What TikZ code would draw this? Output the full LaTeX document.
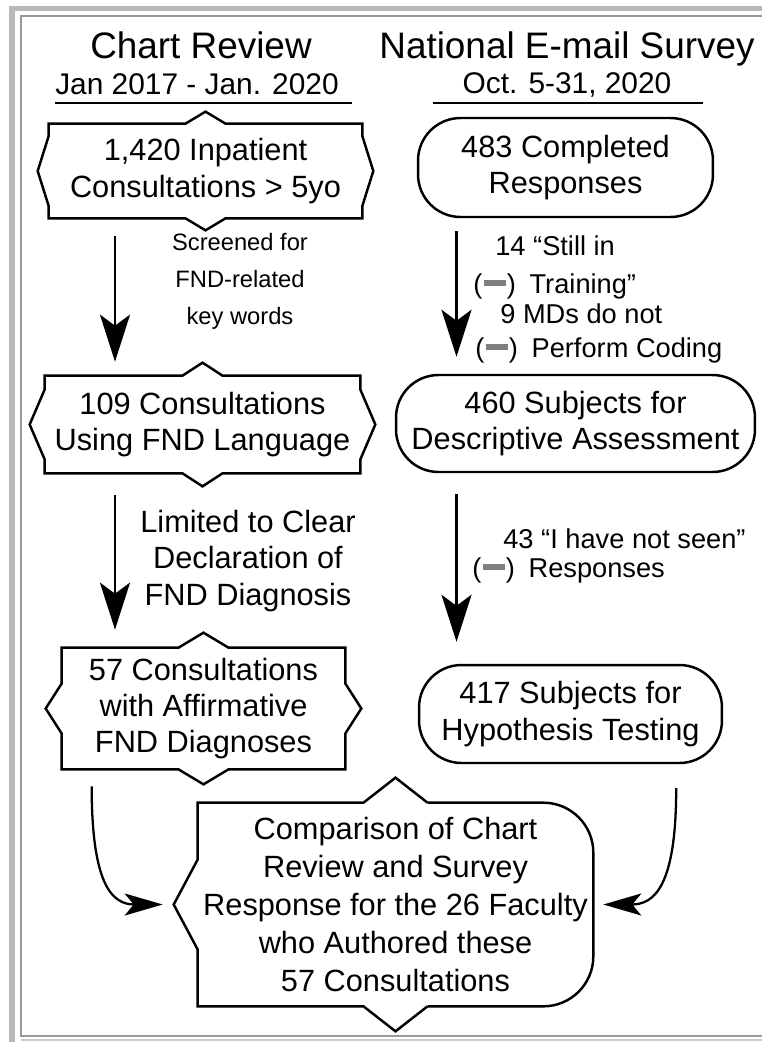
\documentclass[tikz,border=0pt]{standalone}
\usepackage{fontspec}
\setmainfont{Liberation Sans}
\usetikzlibrary{arrows.meta,calc,positioning}

\newcommand{\boxfont}{\fontsize{17.5}{20.7}\selectfont}
\newcommand{\headfont}{\fontsize{21}{25}\selectfont}
\newcommand{\datefont}{\fontsize{17}{20}\selectfont}
\newcommand{\notefont}{\fontsize{15.5}{19}\selectfont}
\newcommand{\minusbar}{(\kern0.05em\textcolor{gray}{\rule[0.26em]{0.8em}{0.22em}}\kern0.05em)\hspace{0.5em}}
% outline with a point on every side: node, peak, half base, side depth, side half
\newcommand{\spiky}[5]{%
  \draw[boxline] (#1.north west) -- ($(#1.north)+(-#3,0)$) -- ($(#1.north)+(0,-#2)$)
    -- ($(#1.north)+(#3,0)$) -- (#1.north east) -- ($(#1.east)+(0,-#5)$)
    -- ($(#1.east)+(#4,0)$) -- ($(#1.east)+(0,#5)$) -- (#1.south east)
    -- ($(#1.south)+(#3,0)$) -- ($(#1.south)+(0,#2)$) -- ($(#1.south)+(-#3,0)$)
    -- (#1.south west) -- ($(#1.west)+(0,#5)$) -- ($(#1.west)+(-#4,0)$)
    -- ($(#1.west)+(0,-#5)$) -- cycle;}

\begin{document}
\begin{tikzpicture}[
    x=0.02cm, y=-0.02cm,
    boxline/.style={line width=1.4pt, line join=miter},
    txt/.style={inner sep=0pt, align=center, font=\boxfont},
    pill/.style={txt, draw, line width=1.4pt, rounded corners=0.85cm},
    flow/.style={line width=1.7pt, -{Stealth[length=0.94cm, width=0.6cm, inset=0.22cm]}},
    merge/.style={line width=1.3pt, -{Stealth[length=0.76cm, width=0.44cm, inset=0.18cm]}},
    note/.style={inner sep=0pt, font=\notefont, anchor=base west}
  ]
  \useasboundingbox (0,0) rectangle (762,1042);

  % Frame
  \fill[gray!55] (9,6) rectangle (762,11);
  \fill[gray!55] (9,6) rectangle (15,1042);
  \draw[gray!80, line width=0.035cm] (762,16) -- (21,16) -- (21,1036) -- (762,1036);
  \draw[gray!40, line width=0.03cm] (21,1040) -- (762,1040);

  % Titles
  \node[font=\headfont, anchor=base] (crt) at (201,58) {Chart Review};
  \node[font=\datefont, anchor=base] (crd) at (197,94) {Jan 2017 - Jan. 2020};
  \node[font=\headfont, anchor=base] (nst) at (567,58) {National E-mail Survey};
  \node[font=\datefont, anchor=base] (nsd) at (567,93) {Oct. 5-31, 2020};
  \draw[line width=0.9pt] (55,103) -- (352,103);
  \draw[line width=0.9pt] (433,103) -- (703,103);

  % Chart review
  \node[txt, minimum width=6.26cm, minimum height=1.88cm] (l1) at (205.5,171) {1,420 Inpatient\\Consultations > 5yo};
  \node[txt, minimum width=6.3cm, minimum height=1.94cm] (l2) at (202.5,424.5) {109 Consultations\\Using FND Language};
  \node[txt, minimum width=5.66cm, minimum height=2.42cm] (l3) at (203.5,708.5) {57 Consultations\\with Affirmative\\FND Diagnoses};
  \spiky{l1}{12}{20}{11}{35}
  \spiky{l2}{13}{20}{15}{35}
  \spiky{l3}{15}{25}{16}{25}

  % Survey
  \node[pill, minimum width=5.9cm, minimum height=1.98cm] (r1) at (565.5,167.5) {483 Completed\\Responses};
  \node[pill, minimum width=7.18cm, minimum height=1.94cm] (r2) at (575.5,423.5) {460 Subjects for\\Descriptive Assessment};
  \node[pill, minimum width=6.06cm, minimum height=1.96cm] (r3) at (570.5,714) {417 Subjects for\\Hypothesis Testing};

  % Comparison
  \node[txt, font=\fontsize{17.5}{21.5}\selectfont, minimum width=7.9cm, minimum height=4.06cm] (cmp) at (395.5,904.5)
    {Comparison of Chart\\Review and Survey\\Response for the 26 Faculty\\who Authored these\\57 Consultations};
  \draw[boxline] ($(cmp.north)+(32,0)$) -- ($(cmp.north)+(0,-25)$) -- ($(cmp.north)+(-32,0)$)
    -- (cmp.north west) -- ($(cmp.west)+(0,-45)$) -- ($(cmp.west)+(-24,0)$) -- ($(cmp.west)+(0,45)$)
    -- (cmp.south west) -- ($(cmp.south)+(-32,0)$) -- ($(cmp.south)+(0,25)$) -- ($(cmp.south)+(32,0)$);
  \draw[boxline, rounded corners=1cm] ($(cmp.north)+(32,0)$) -- (cmp.north east) -- (cmp.south east) -- ($(cmp.south)+(32,0)$);

  % Arrows
  \coordinate (lx) at (115,0);
  \coordinate (rx) at (456.5,0);
  \draw[flow] ($(lx |- l1.south)+(0,18)$) -- ($(lx |- l2.north)+(0,-14)$);
  \draw[flow] ($(lx |- l2.south)+(0,22)$) -- ($(lx |- l3.north)+(0,-18)$);
  \draw[flow] ($(rx |- r1.south)+(0,13)$) -- ($(rx |- r2.north)+(0,-17)$);
  \draw[flow] ($(rx |- r2.south)+(0,21)$) -- ($(rx |- r3.north)+(0,-22)$);
  \coordinate (lcs) at ($(l3.south west)+(30,17)$);
  \coordinate (rcs) at ($(r3.south east)+(-47,24)$);
  \draw[merge] (lcs) .. controls +(0,100) and +(-50,0) .. ($(cmp.west)+(-35,0)$);
  \draw[merge] (rcs) .. controls +(0,100) and +(50,0) .. ($(cmp.east)+(10,0)$);

  % Arrow labels
  \node[font=\fontsize{13.5}{21}\selectfont, align=center, inner sep=0pt] (scr) at (240,281) {Screened for\\FND-related\\key words};
  \node[txt] (lim) at (248,561) {Limited to Clear\\Declaration of\\FND Diagnosis};
  \node[note] (n14) at (495,255) {14 “Still in};
  \node[note] (ntr) at (473,293) {\minusbar Training”};
  \node[note] (n9) at (500,323) {9 MDs do not};
  \node[note] (npc) at (475,357) {\minusbar Perform Coding};
  \node[note] (n43) at (503,548) {43 “I have not seen”};
  \node[note] (nrs) at (472,577) {\minusbar Responses};
\end{tikzpicture}
\end{document}
